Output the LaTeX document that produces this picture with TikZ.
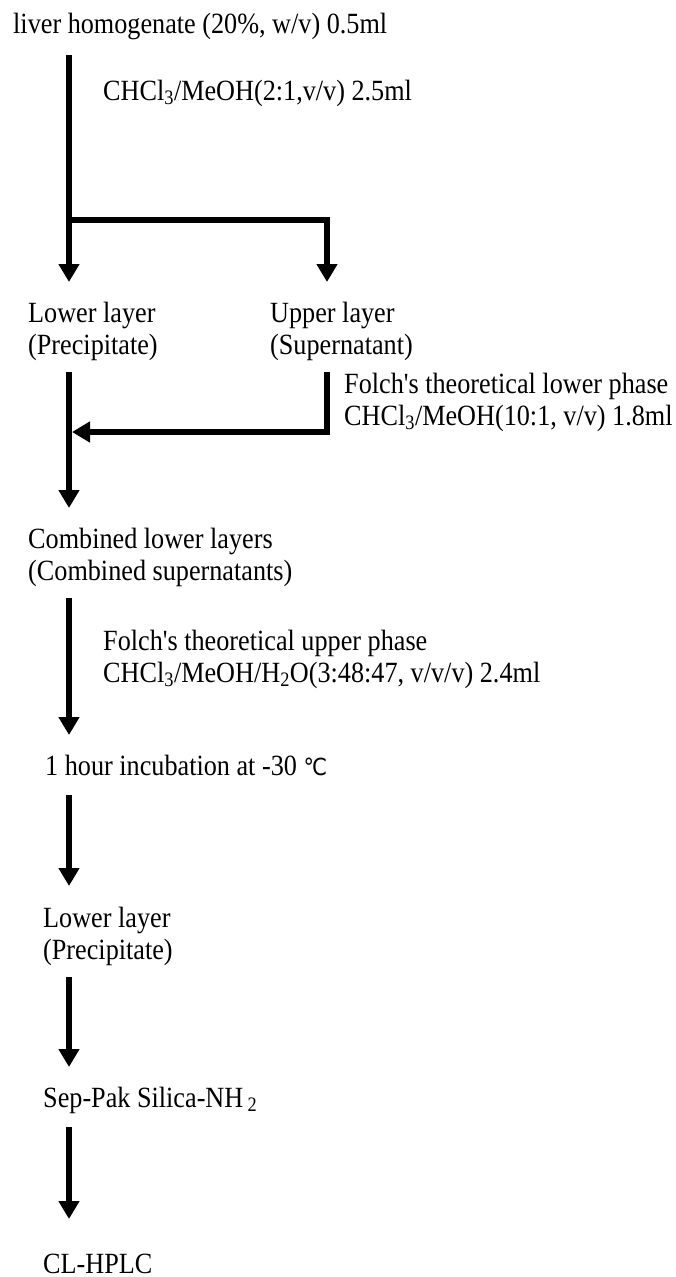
\documentclass[tikz,border=0pt]{standalone}
\usepackage{fontspec}
\setmainfont{Liberation Serif}
\newfontfamily\degfont{DejaVu Sans}
\usetikzlibrary{arrows.meta}
\newcommand\vstretch[1]{\scalebox{1}[1.12]{#1}}
\newcommand\twolines[2]{\vstretch{\begin{tabular}[t]{@{}l@{}}#1\\#2\end{tabular}}}
\begin{document}
\begin{tikzpicture}[x=1pt,y=-1pt,
  lbl/.style={anchor=base west, inner sep=0pt, font=\fontsize{26.2}{28.6}\selectfont},
  flow/.style={line width=6pt, line join=miter},
  arr/.style={flow, -{Triangle[width=20pt,length=18pt]}}]
\useasboundingbox (0,0) rectangle (676,1277);
\coordinate (colA) at (69,0);
\coordinate (colB) at (327,0);
\coordinate (j1) at (0,220);
\coordinate (j2) at (0,432);
% texts
\node[lbl] (title) at (13,33) {\vstretch{liver homogenate (20\%, w/v) 0.5ml}};
\node[lbl] (add1) at (103,100) {\vstretch{CHCl\textsubscript{3}/MeOH(2:1,v/v) 2.5ml}};
\node[lbl] (lower1) at (28,322) {\twolines{Lower layer}{(Precipitate)}};
\node[lbl] (upper1) at (270,322) {\twolines{Upper layer}{(Supernatant)}};
\node[lbl] (add2) at (344,393) {\twolines{Folch\textquotesingle s theoretical lower phase}{CHCl\textsubscript{3}/MeOH(10:1, v/v) 1.8ml}};
\node[lbl] (comb) at (28,548) {\twolines{Combined lower layers}{(Combined supernatants)}};
\node[lbl] (add3) at (103,650) {\twolines{Folch\textquotesingle s theoretical upper phase}{CHCl\textsubscript{3}/MeOH/H\textsubscript{2}O(3:48:47, v/v/v) 2.4ml}};
\node[lbl] (incub) at (45,775) {\vstretch{1 hour incubation at -30 {\degfont\fontsize{21}{24}\selectfont ℃}}};
\node[lbl] (lower2) at (43,927) {\twolines{Lower layer}{(Precipitate)}};
\node[lbl] (seppak) at (43,1107) {\vstretch{Sep-Pak Silica-NH\,\textsubscript{2}}};
\node[lbl] (hplc) at (43,1273) {\vstretch{CL-HPLC}};
% connectors
\draw[arr, shorten <=22pt, shorten >=40pt] (colA |- title.base) -- (colA |- lower1.base);
\draw[arr, shorten >=40pt] (colA |- j1) -- (colB |- j1) -- (colB |- upper1.base);
\draw[arr, shorten <=50pt, shorten >=40pt] (colA |- lower1.base) -- (colA |- comb.base);
\draw[arr, shorten <=50pt, shorten >=3pt] (colB |- upper1.base) -- (colB |- j2) -- (colA |- j2);
\draw[arr, shorten <=50pt, shorten >=40pt] (colA |- comb.base) -- (colA |- incub.base);
\draw[arr, shorten <=20pt, shorten >=41pt] (colA |- incub.base) -- (colA |- lower2.base);
\draw[arr, shorten <=50pt, shorten >=40pt] (colA |- lower2.base) -- (colA |- seppak.base);
\draw[arr, shorten <=20pt, shorten >=54pt] (colA |- seppak.base) -- (colA |- hplc.base);
\end{tikzpicture}
\end{document}
